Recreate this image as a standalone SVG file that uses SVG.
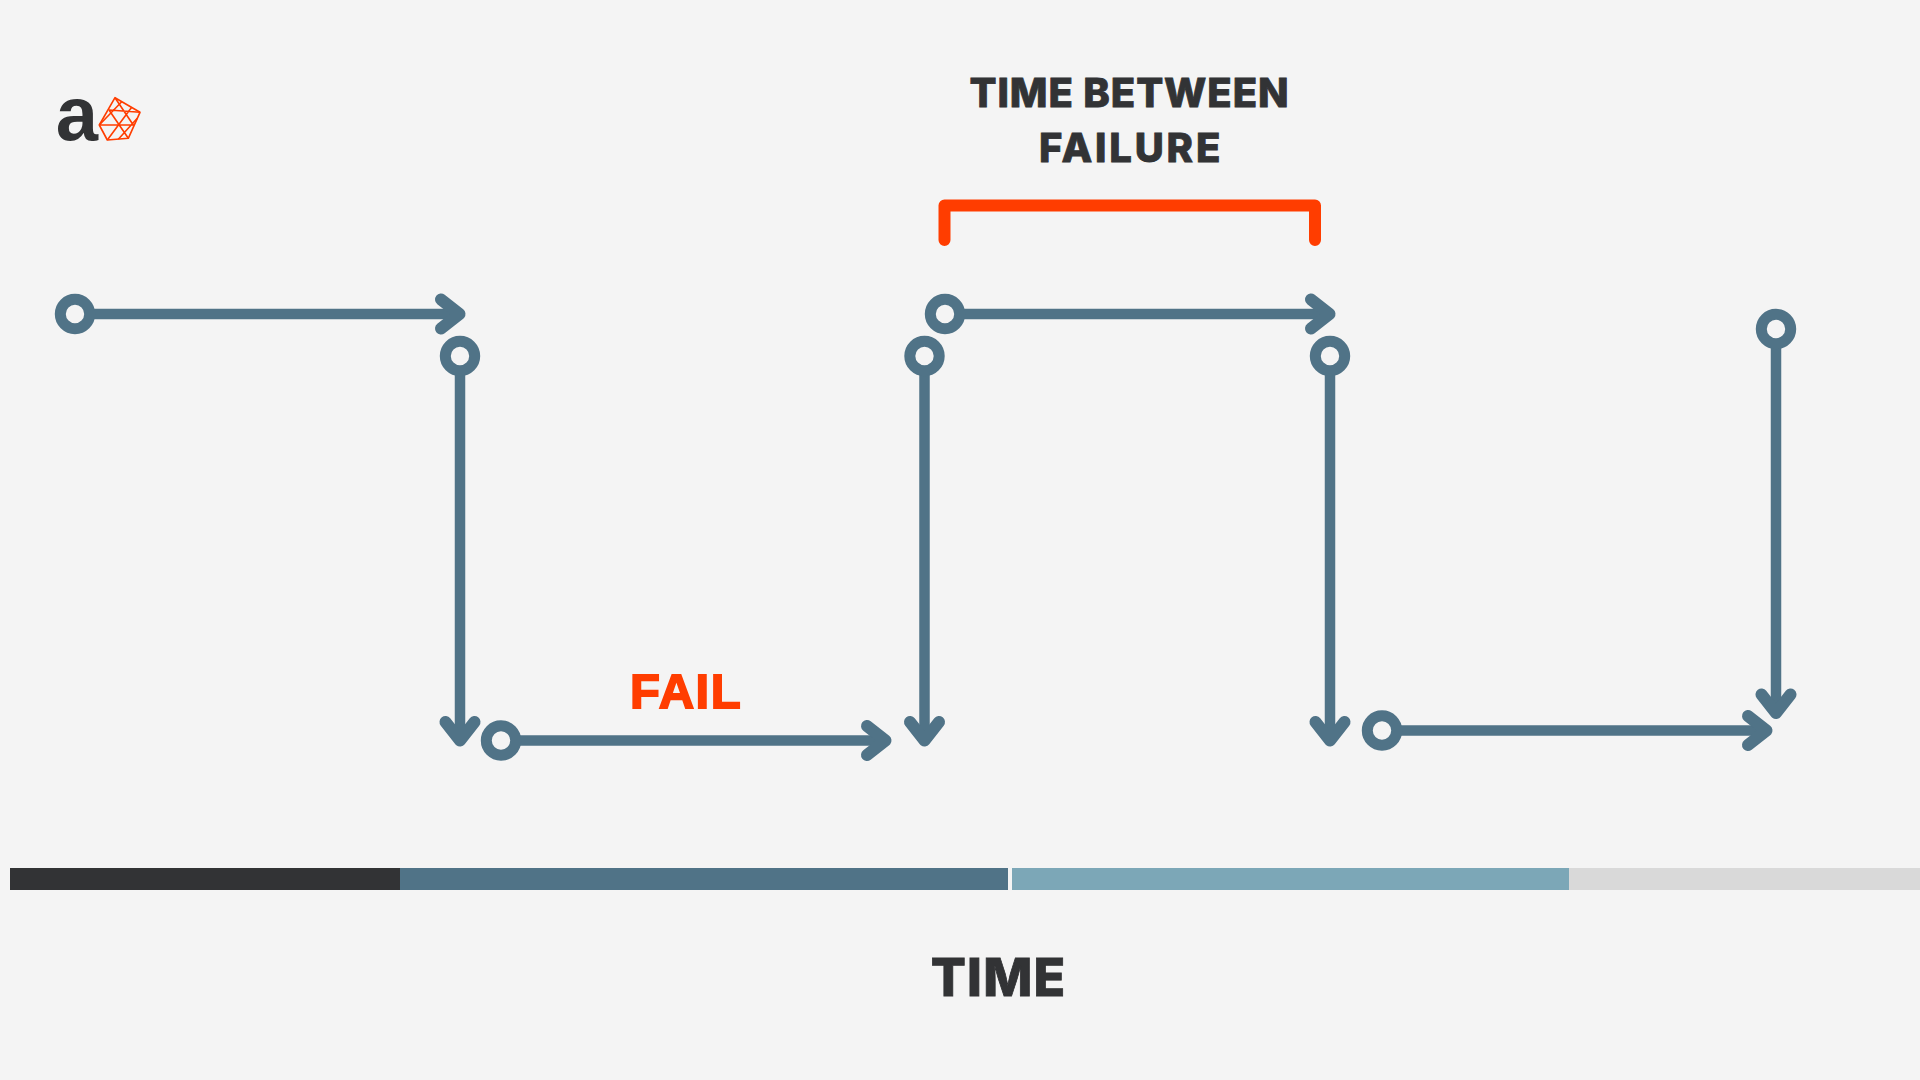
<svg xmlns="http://www.w3.org/2000/svg" width="1920" height="1080" viewBox="0 0 1920 1080">
<style>
.c{fill:none;stroke:#507387;stroke-width:10.5;marker-end:url(#arrow)}
.n{fill:#f4f4f4;stroke:#507387;stroke-width:11}
.t{font-family:Inter,"Liberation Sans",sans-serif;font-weight:800;fill:#323335;stroke:#323335;stroke-width:.8;text-anchor:middle}
.m{fill:none;stroke:#ff3d00;stroke-width:1.6;stroke-linejoin:round}
</style>
<defs>
<marker id="arrow" markerUnits="userSpaceOnUse" markerWidth="40" markerHeight="50" refX="30" refY="25" viewBox="0 0 40 50" orient="auto" overflow="visible">
<path d="M11 10.500L29.500 25L11 39.500" fill="none" stroke="#507387" stroke-width="12" stroke-linecap="round" stroke-linejoin="round"/>
</marker>
</defs>
<rect width="1920" height="1080" fill="#f4f4f4"/>
<g id="logo">
<text x="77" y="139.500" font-family="'Liberation Sans',sans-serif" font-weight="700" font-size="76" fill="#323335" text-anchor="middle">a</text>
<path class="m" d="M115 97.700L140 112.300L128.300 138.300L107.300 140L99.300 125Z"/>
<path class="m" d="M109 110L140 112.300M99.300 125L134 125M121.700 101.700L99.300 125M131.700 107.300L107.300 140M137.300 118.300L118.300 139.300M109 110L128.300 138.300M115 97.700L133.300 125"/>
</g>
<g id="connectors">
<path class="c" d="M75 314H460"/>
<path class="c" d="M460 356V741"/>
<path class="c" d="M501 740.500H886"/>
<path class="c" d="M924.500 356V741"/>
<path class="c" d="M945 314H1330"/>
<path class="c" d="M1330 356V741"/>
<path class="c" d="M1382 730.500H1767"/>
<path class="c" d="M1776 329V713.500"/>
</g>
<g id="node-1"><circle class="n" cx="75" cy="314" r="14.700"/></g>
<g id="node-2"><circle class="n" cx="460" cy="356" r="14.700"/></g>
<g id="node-3"><circle class="n" cx="501" cy="740.500" r="14.700"/></g>
<g id="node-4"><circle class="n" cx="924.500" cy="356" r="14.700"/></g>
<g id="node-5"><circle class="n" cx="945" cy="314" r="14.700"/></g>
<g id="node-6"><circle class="n" cx="1330" cy="356" r="14.700"/></g>
<g id="node-7"><circle class="n" cx="1382" cy="730.500" r="14.700"/></g>
<g id="node-8"><circle class="n" cx="1776" cy="329" r="14.700"/></g>
<g id="bracket"><path d="M944.500 240V205.500H1315V240" fill="none" stroke="#ff3d00" stroke-width="12" stroke-linecap="round" stroke-linejoin="round"/></g>
<g id="label-between">
<text class="t" x="1129.500" y="106.500" font-size="40" letter-spacing=".9">TIME BETWEEN</text>
<text class="t" x="1131" y="162" font-size="40" letter-spacing="2.800">FAILURE</text>
</g>
<g id="label-fail"><text x="686" y="707.500" font-family="'Liberation Sans',sans-serif" font-weight="700" font-size="49" letter-spacing="1.500" stroke="#ff3d00" stroke-width="1.800" fill="#ff3d00" text-anchor="middle">FAIL</text></g>
<g id="timeline">
<rect x="10" y="868" width="390" height="22" fill="#323335"/>
<rect x="400" y="868" width="608" height="22" fill="#507387"/>
<rect x="1012" y="868" width="557" height="22" fill="#7ca7b7"/>
<rect x="1569" y="868" width="351" height="22" fill="#d9d9d9"/>
</g>
<g id="label-time"><text class="t" x="998.500" y="996" font-size="52" letter-spacing="1.200">TIME</text></g>
</svg>
